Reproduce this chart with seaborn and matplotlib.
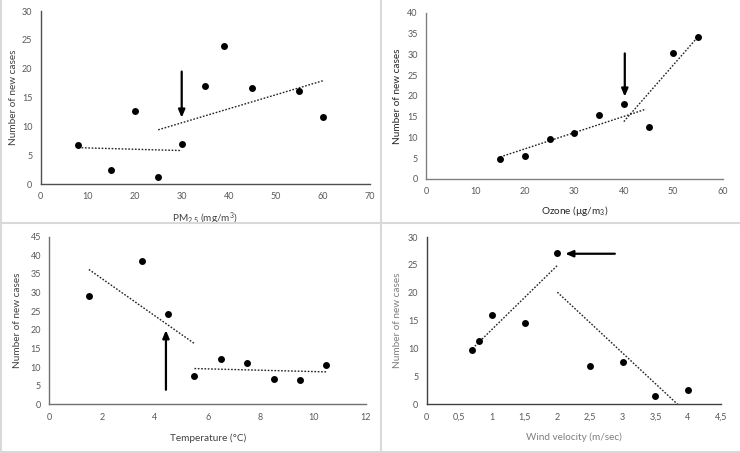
import matplotlib
matplotlib.use("Agg")
import matplotlib.pyplot as plt
import seaborn as sns
import pandas as pd
from matplotlib.lines import Line2D
from matplotlib.ticker import FuncFormatter

sns.set_theme(style="white")
plt.rcParams['font.family'] = ['Lato', 'DejaVu Sans']
plt.rcParams['mathtext.fontset'] = 'custom'
plt.rcParams['mathtext.rm'] = 'Lato'
plt.rcParams['mathtext.it'] = 'Lato'

# ---- Data ----
pm_x = [8, 15, 20, 25, 30, 35, 39, 45, 55, 60]
pm_y = [6.8, 2.4, 12.6, 1.3, 6.9, 17.0, 24.0, 16.7, 16.2, 11.7]
pm_trend1_x = [8, 30]
pm_trend1_y = [6.3, 5.8]
pm_trend2_x = [25, 60]
pm_trend2_y = [9.4, 17.9]
pm_arrow = (30, 19.5, 30, 11.5)  # x_from, y_from, x_to, y_to

oz_x = [15, 20, 25, 30, 35, 40, 45, 50, 55]
oz_y = [4.7, 5.6, 9.5, 11.1, 15.4, 18.0, 12.5, 30.2, 34.2]
oz_trend1_x = [15, 44.5]
oz_trend1_y = [5.3, 16.8]
oz_trend2_x = [40, 55]
oz_trend2_y = [13.8, 34.2]
oz_arrow = (40.2, 30.2, 40.2, 19.8)

t_x = [1.5, 3.5, 4.5, 5.5, 6.5, 7.5, 8.5, 9.5, 10.5]
t_y = [29.2, 38.4, 24.2, 7.7, 12.1, 11.0, 6.8, 6.4, 10.6]
t_trend1_x = [1.5, 5.5]
t_trend1_y = [36.2, 16.3]
t_trend2_x = [5.5, 10.5]
t_trend2_y = [9.6, 8.7]
t_arrow = (4.42, 3.9, 4.42, 19.9)

w_x = [0.7, 0.8, 1.0, 1.5, 2.0, 2.5, 3.0, 3.5, 4.0]
w_y = [9.7, 11.4, 16.0, 14.5, 27.2, 6.8, 7.5, 1.4, 2.6]
w_trend1_x = [0.7, 2.0]
w_trend1_y = [10.0, 24.9]
w_trend2_x = [2.0, 3.84]
w_trend2_y = [20.1, 0.0]
w_arrow = (2.88, 27.0, 2.12, 27.0)

fig = plt.figure(figsize=(7.4, 4.53), dpi=100)

panels = [
    dict(rect=[0.0550, 0.5938, 0.4446, 0.3819], x=pm_x, y=pm_y,
         t1=(pm_trend1_x, pm_trend1_y), t2=(pm_trend2_x, pm_trend2_y), arrow=pm_arrow,
         xlim=(0, 70), ylim=(0, 30), xticks=range(0, 71, 10), yticks=range(0, 31, 5),
         xlabel=r'$\mathrm{PM_{2.5}\ (mg/m^{3})}$', ylx=-0.069, xly=-0.15,
         labc='#404040', spc='#505050', comma=False),
    dict(rect=[0.5757, 0.6049, 0.4009, 0.3671], x=oz_x, y=oz_y,
         t1=(oz_trend1_x, oz_trend1_y), t2=(oz_trend2_x, oz_trend2_y), arrow=oz_arrow,
         xlim=(0, 60), ylim=(0, 40), xticks=range(0, 61, 10), yticks=range(0, 41, 5),
         xlabel='Ozone (µg/m$_{3}$)', ylx=-0.082, xly=-0.15,
         labc='#262626', spc='#808080', comma=False),
    dict(rect=[0.0666, 0.1075, 0.4280, 0.3700], x=t_x, y=t_y,
         t1=(t_trend1_x, t_trend1_y), t2=(t_trend2_x, t_trend2_y), arrow=t_arrow,
         xlim=(0, 12), ylim=(0, 45), xticks=range(0, 13, 2), yticks=range(0, 46, 5),
         xlabel='Temperature (°C)', ylx=-0.087, xly=-0.173,
         labc='#404040', spc='#707070', comma=False),
    dict(rect=[0.5766, 0.1075, 0.3973, 0.3693], x=w_x, y=w_y,
         t1=(w_trend1_x, w_trend1_y), t2=(w_trend2_x, w_trend2_y), arrow=w_arrow,
         xlim=(0, 4.5), ylim=(0, 30), xticks=[0, 0.5, 1, 1.5, 2, 2.5, 3, 3.5, 4, 4.5],
         yticks=range(0, 31, 5),
         xlabel='Wind velocity (m/sec)', ylx=-0.085, xly=-0.166,
         labc='#7f7f7f', spc='#404040', comma=True),
]

for p in panels:
    ax = fig.add_axes(p['rect'])
    df = pd.DataFrame({'x': p['x'], 'y': p['y']})
    sns.scatterplot(data=df, x='x', y='y', ax=ax, color='black', s=25,
                    edgecolor='black', linewidth=0, zorder=3)
    for tx, ty in (p['t1'], p['t2']):
        ax.plot(tx, ty, color='#222222', linestyle=(0, (1.2, 1.2)), linewidth=1.0, zorder=2)
    x0, y0, x1, y1 = p['arrow']
    ax.annotate('', xy=(x1, y1), xytext=(x0, y0),
                arrowprops=dict(arrowstyle='-|>,head_length=0.38,head_width=0.16',
                                color='black', lw=1.6, shrinkA=0, shrinkB=0))
    ax.set_xlim(*p['xlim'])
    ax.set_ylim(*p['ylim'])
    ax.set_xticks(list(p['xticks']))
    ax.set_yticks(list(p['yticks']))
    if p['comma']:
        ax.xaxis.set_major_formatter(FuncFormatter(
            lambda v, pos: (f'{v:g}').replace('.', ',')))
    ax.tick_params(axis='both', length=0, labelsize=6.5, colors='#595959', pad=6)
    for s in ('top', 'right'):
        ax.spines[s].set_visible(False)
    for s in ('left', 'bottom'):
        ax.spines[s].set_color(p['spc'])
        ax.spines[s].set_linewidth(1.0)
    ax.set_xlabel(p['xlabel'], fontsize=7.2, color=p['labc'])
    ax.set_ylabel('Number of new cases', fontsize=7.2, color=p['labc'])
    ax.yaxis.set_label_coords(p['ylx'], 0.5)
    ax.xaxis.set_label_coords(0.5, p['xly'])
    ax.patch.set_alpha(0)

# panel borders
bc = '#d9d9d9'
fig.add_artist(Line2D([381 / 740, 381 / 740], [0, 1], color=bc, lw=1.5, transform=fig.transFigure))
fig.add_artist(Line2D([0, 1], [1 - 223.5 / 453, 1 - 223.5 / 453], color=bc, lw=1.5, transform=fig.transFigure))
fig.add_artist(Line2D([0, 1], [1 - 452 / 453, 1 - 452 / 453], color=bc, lw=1.5, transform=fig.transFigure))
fig.add_artist(Line2D([1 / 740, 1 / 740], [0, 1], color=bc, lw=1.5, transform=fig.transFigure))

fig.savefig('out.png', dpi=100)
